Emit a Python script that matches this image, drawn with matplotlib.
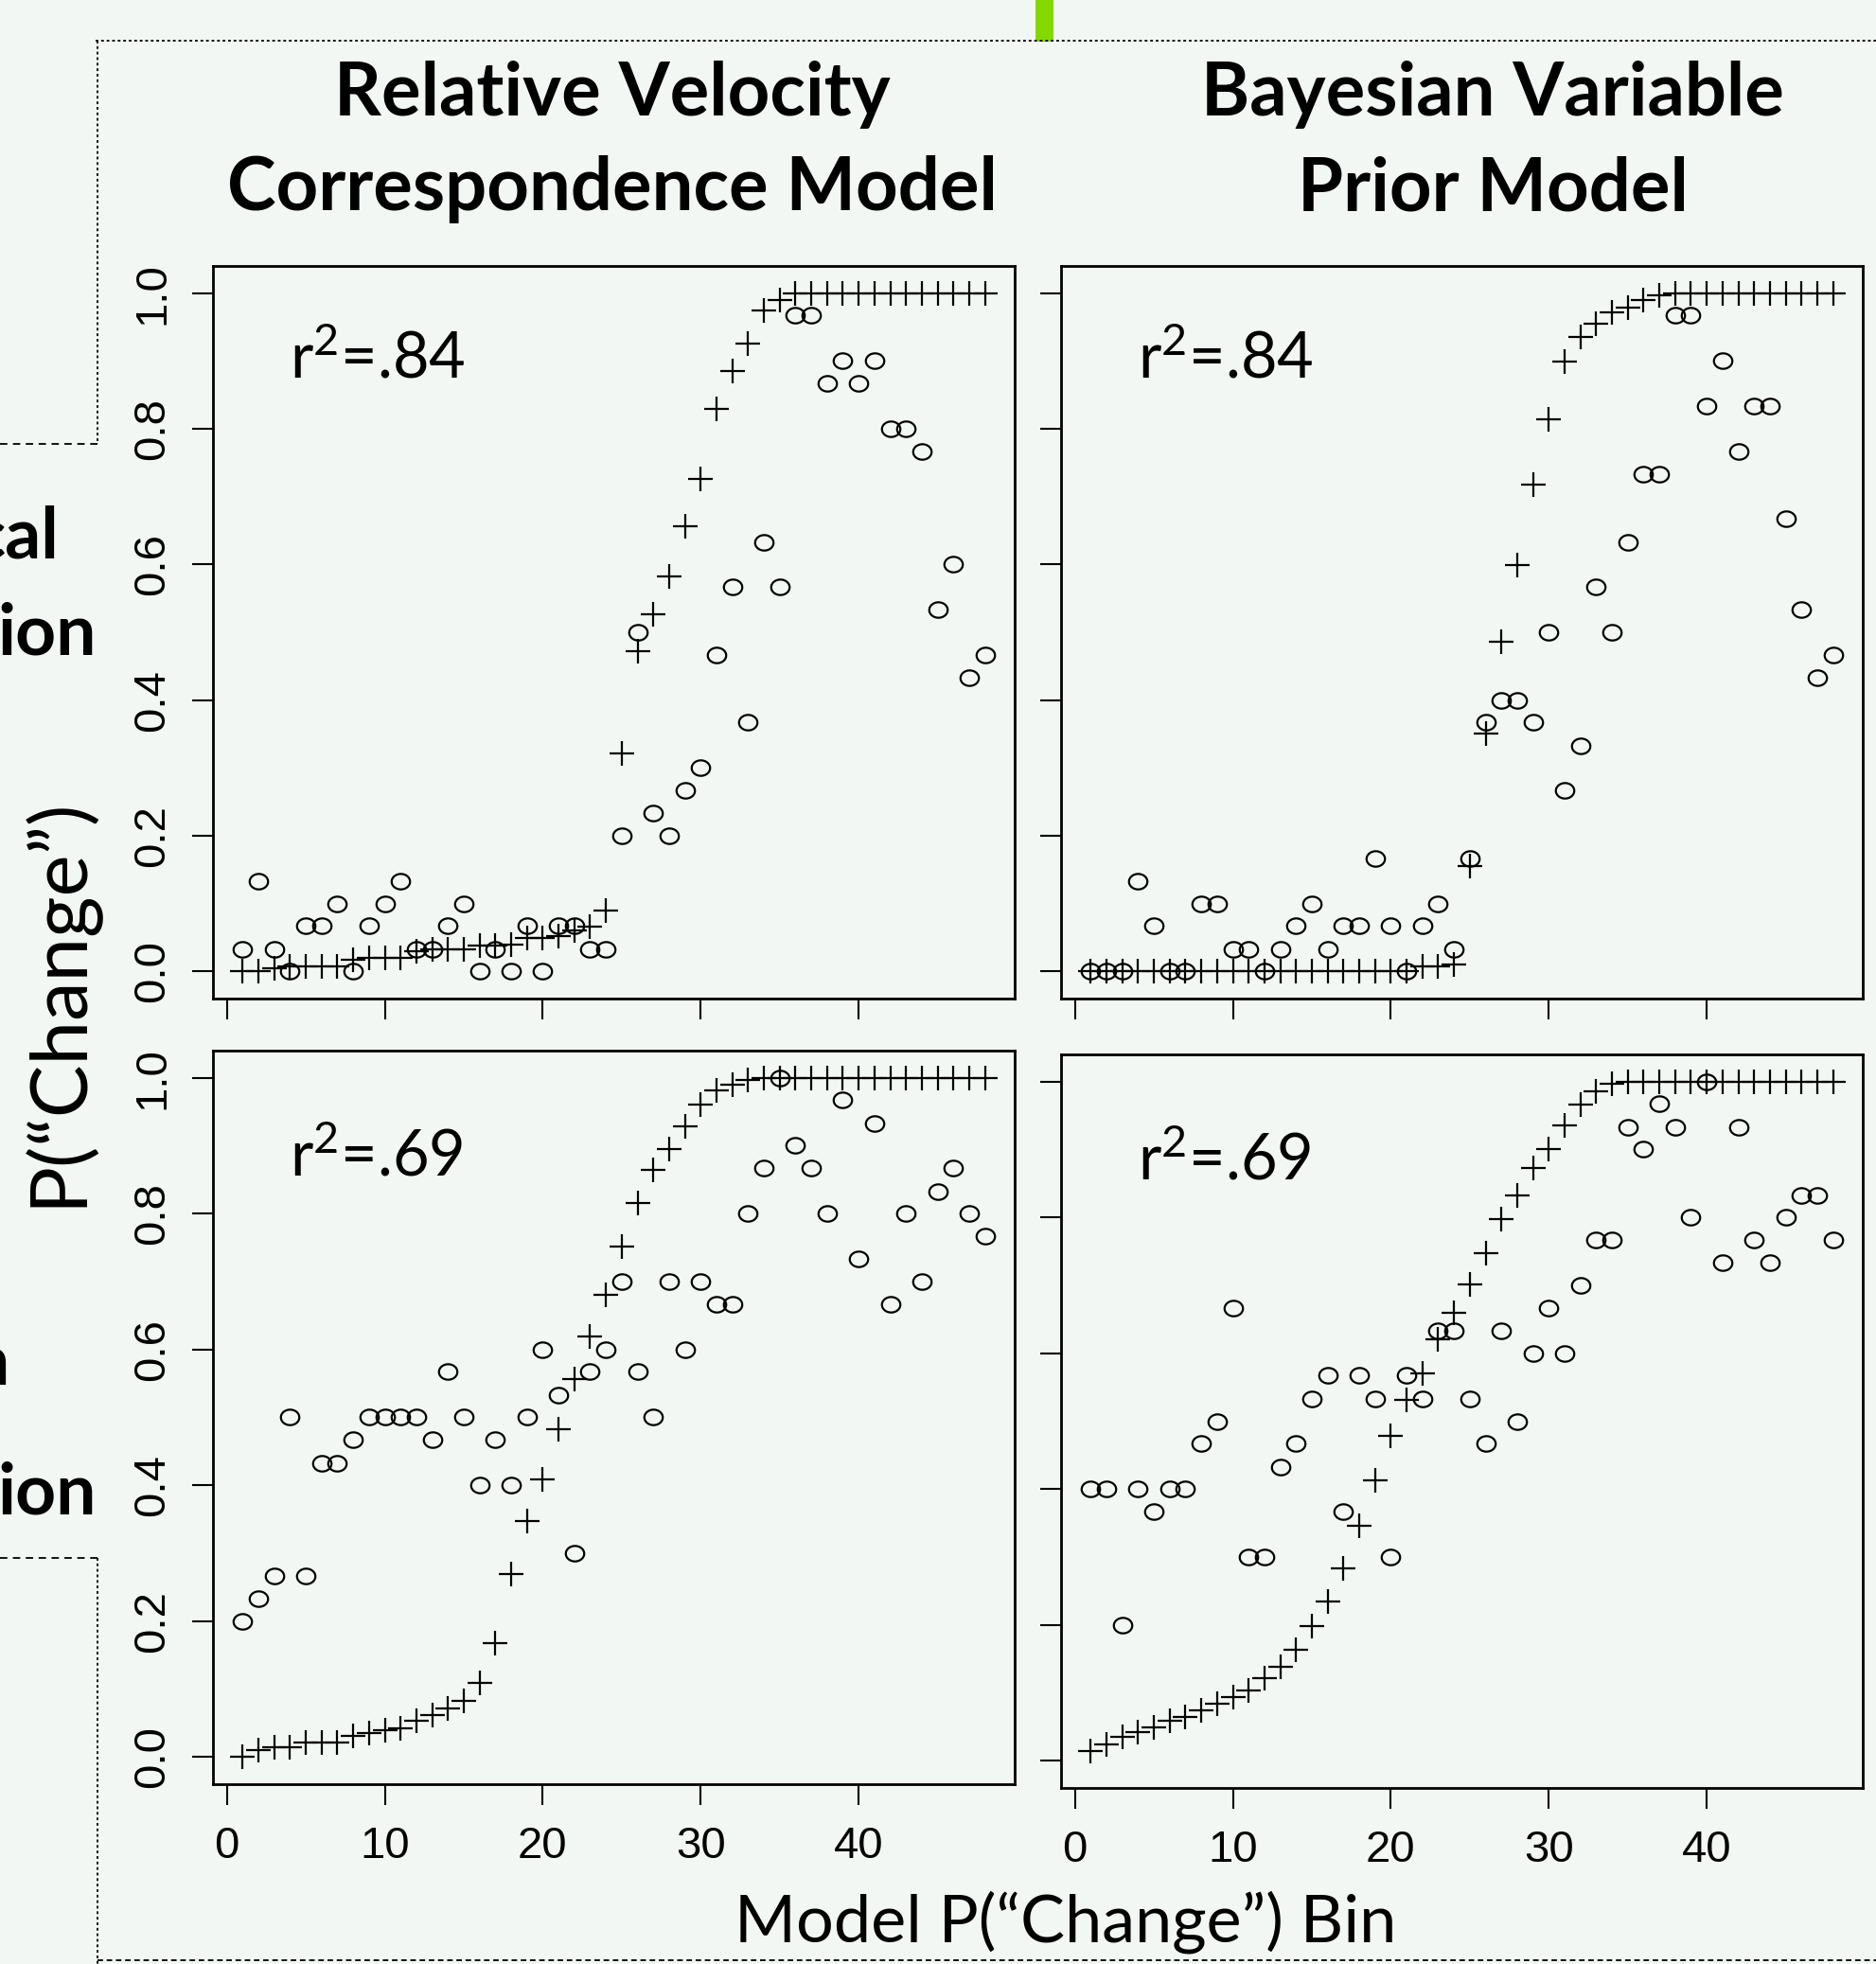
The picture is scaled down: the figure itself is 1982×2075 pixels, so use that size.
import numpy as np
import matplotlib
matplotlib.use("Agg")
import matplotlib.pyplot as plt
from matplotlib.lines import Line2D
from matplotlib.patches import Rectangle
from matplotlib.path import Path

W, H = 1983, 2075
BG = "#f3f7f3"

bins = np.arange(1, 49)
xticks = [0, 10, 20, 30, 40]
yticks = [0.0, 0.2, 0.4, 0.6, 0.8, 1.0]
ytick_labels = ["0.0", "0.2", "0.4", "0.6", "0.8", "1.0"]

titles = ["Relative Velocity\nCorrespondence Model", "Bayesian Variable\nPrior Model"]
r2_top = r"r$^{\mathrm{2}}$=.84"
r2_bot = r"r$^{\mathrm{2}}$=.69"
ylabel = "P(“Change”)"
xlabel = "Model P(“Change”) Bin"
side_words = ["cal", "ion", "n", "ion"]

# observed P("change") per bin (circles) and model prediction (plus)
rvc_obs_top = [.033, .133, .033, 0, .067, .067, .1, 0, .067, .1, .133, .033,
               .033, .067, .1, 0, .033, 0, .067, 0, .067, .067, .033, .033,
               .2, .5, .233, .2, .267, .3, .467, .567, .367, .633, .567, .967,
               .967, .867, .9, .867, .9, .8, .8, .767, .533, .6, .433, .467]
rvc_mod_top = [0, 0, .004, .008, .008, .008, .008, .017, .02, .02, .02, .03,
               .033, .033, .033, .038, .038, .04, .05, .05, .052, .06, .066, .09,
               .321, .472, .526, .582, .656, .726, .829, .885, .926, .974, .99, 1,
               1, 1, 1, 1, 1, 1, 1, 1, 1, 1, 1, 1]
bvp_obs_top = [0, 0, 0, .133, .067, 0, 0, .1, .1, .033, .033, 0,
               .033, .067, .1, .033, .067, .067, .167, .067, 0, .067, .1, .033,
               .167, .367, .4, .4, .367, .5, .267, .333, .567, .5, .633, .733,
               .733, .967, .967, .833, .9, .767, .833, .833, .667, .533, .433, .467]
bvp_mod_top = [0, 0, 0, 0, 0, 0, 0, 0, 0, 0, 0, 0,
               0, 0, 0, 0, 0, 0, 0, 0, 0, .008, .008, .01,
               .156, .351, .486, .599, .717, .814, .899, .935, .955, .971, .979, .99,
               .997, 1, 1, 1, 1, 1, 1, 1, 1, 1, 1, 1]
rvc_obs_bot = [.2, .233, .267, .5, .267, .433, .433, .467, .5, .5, .5, .5,
               .467, .567, .5, .4, .467, .4, .5, .6, .533, .3, .567, .6,
               .7, .567, .5, .7, .6, .7, .667, .667, .8, .867, 1, .9,
               .867, .8, .967, .733, .933, .667, .8, .7, .833, .867, .8, .767]
rvc_mod_bot = [0, .01, .014, .014, .021, .021, .022, .031, .035, .04, .042, .053,
               .062, .071, .083, .109, .168, .27, .347, .409, .483, .556, .619, .681,
               .752, .816, .865, .895, .929, .961, .982, .99, .997, 1, 1, 1,
               1, 1, 1, 1, 1, 1, 1, 1, 1, 1, 1, 1]
bvp_obs_bot = [.4, .4, .2, .4, .367, .4, .4, .467, .5, .667, .3, .3,
               .433, .467, .533, .567, .367, .567, .533, .3, .567, .533, .633, .633,
               .533, .467, .633, .5, .6, .667, .6, .7, .767, .767, .933, .9,
               .967, .933, .8, 1, .733, .933, .767, .733, .8, .833, .833, .767]
bvp_mod_bot = [.014, .024, .035, .042, .049, .059, .065, .074, .084, .094, .104, .122,
               .139, .164, .198, .235, .283, .346, .413, .479, .531, .571, .621, .66,
               .701, .748, .797, .833, .873, .901, .935, .966, .986, .997, 1, 1,
               1, 1, 1, 1, 1, 1, 1, 1, 1, 1, 1, 1]

plt.rcParams["font.family"] = ["Lato", "DejaVu Sans"]
plt.rcParams["mathtext.fontset"] = "custom"
plt.rcParams["mathtext.rm"] = "Lato"
plt.rcParams["mathtext.it"] = "Lato:italic"

# slightly squashed open circle like the original export
t = np.linspace(0, 2 * np.pi, 80)
ellipse = Path(np.column_stack([np.cos(t), 0.84 * np.sin(t)]), closed=True)

fig = plt.figure(figsize=(W / 100, H / 100), dpi=100, facecolor=BG)


def add_panel(x0, y0, x1, y1):
    return fig.add_axes([x0 / W, 1 - y1 / H, (x1 - x0) / W, (y1 - y0) / H])


panels = [
    (add_panel(225, 281, 1072, 1055), rvc_obs_top, rvc_mod_top, r2_top, True, False, 0.875),
    (add_panel(1121, 281, 1968, 1055), bvp_obs_top, bvp_mod_top, r2_top, False, False, 0.875),
    (add_panel(225, 1110, 1072, 1885), rvc_obs_bot, rvc_mod_bot, r2_bot, True, True, 0.856),
    (add_panel(1121, 1114, 1968, 1889), bvp_obs_bot, bvp_mod_bot, r2_bot, False, True, 0.856),
]

for ax, obs, mod, r2, ylab, xlab, r2y in panels:
    ax.set_facecolor(BG)
    ax.plot(bins, mod, linestyle="none", marker="+", markersize=18.5,
            markeredgewidth=1.6, color="black")
    ax.plot(bins, obs, linestyle="none", marker=ellipse, markersize=14,
            markerfacecolor="none", markeredgewidth=1.6, markeredgecolor="black")
    ax.set_xlim(-0.88, 49.88)
    ax.set_ylim(-0.04, 1.04)
    for s in ax.spines.values():
        s.set_linewidth(2.0)
    ax.set_xticks(xticks)
    ax.set_yticks(yticks)
    ax.tick_params(direction="out", length=16, width=1.5, color="black")
    ax.tick_params(axis="x", pad=16)
    ax.tick_params(axis="y", pad=14)
    if xlab:
        ax.set_xticklabels([str(v) for v in xticks], family="Liberation Sans", fontsize=34)
    else:
        ax.set_xticklabels([])
    if ylab:
        ax.set_yticklabels(ytick_labels, family="Liberation Sans", fontsize=34,
                           rotation=90, va="center")
    else:
        ax.set_yticklabels([])
    ax.text(4.0, r2y, r2, fontsize=48, va="baseline", ha="left")

# column titles
for cx, title in zip([647, 1577], titles):
    for base, line in zip([122, 222], title.split("\n")):
        fig.text(cx / W, 1 - base / H, line, ha="center", va="baseline",
                 fontsize=56, fontweight="bold")

fig.text(62 / W, 1 - 1058 / H, ylabel, rotation=90, ha="center", va="center", fontsize=60)
fig.text(1126 / W, 1 - 2052 / H, xlabel, ha="center", va="baseline", fontsize=50.5)

# cut-off words from the neighbouring slide box
for word, (rx, base) in zip(side_words, [(62, 589), (102, 691), (10, 1463), (102, 1600)]):
    fig.text(rx / W, 1 - base / H, word, ha="right", va="baseline",
             fontsize=54, fontweight="bold")

# slide decorations: green bar and dashed frame
fig.add_artist(Rectangle((1094 / W, 1 - 44 / H), 19 / W, 44 / H,
                         transform=fig.transFigure, color="#84d800", lw=0))


def frame_line(xs, ys, style):
    fig.add_artist(Line2D([x / W for x in xs], [1 - y / H for y in ys],
                          transform=fig.transFigure, color="#111111", lw=1.4,
                          linestyle=style))


frame_line([101, 1983], [43, 43], (0, (1.5, 1.5)))
frame_line([103, 103], [43, 469], (0, (1.5, 1.5)))
frame_line([0, 103], [469, 469], (0, (4, 3)))
frame_line([0, 103], [1646, 1646], (0, (4, 3)))
frame_line([103, 103], [1646, 2075], (0, (1.5, 1.5)))
frame_line([103, 1983], [2071, 2071], (0, (3, 2)))

fig.savefig("out.png", dpi=100, facecolor=BG)
plt.close(fig)
